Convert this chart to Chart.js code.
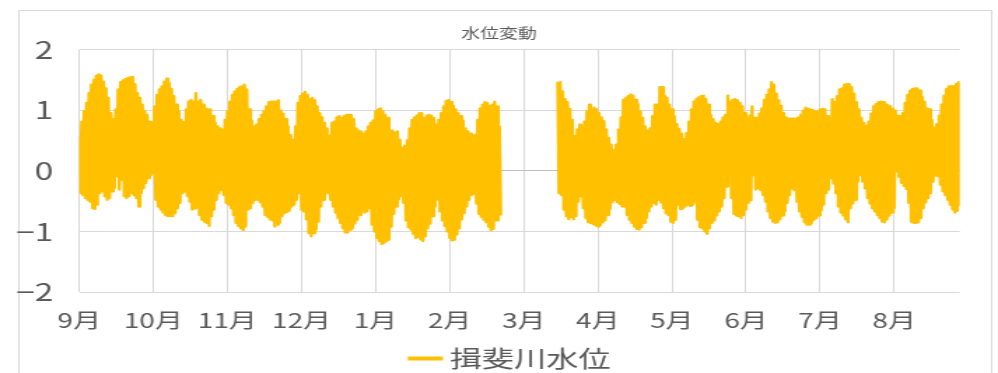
<!DOCTYPE html>
<html lang="ja">
<head>
<meta charset="utf-8">
<title>水位変動</title>
<script src="https://cdn.jsdelivr.net/npm/chart.js@4"></script>
<style>
  html, body { margin: 0; padding: 0; background: #ffffff; }
  /* the chart is laid out on a narrower canvas and widened to the page */
  #wl { display: block; width: 998px; height: 373px; }
</style>
</head>
<body>
<canvas id="wl" width="713" height="373" style="width:998px;height:373px"></canvas>
<script>
// Month labels for the x axis (September to August)
const months = ['9月', '10月', '11月', '12月', '1月', '2月', '3月', '4月', '5月', '6月', '7月', '8月'];
const yTicks = [-2, -1, 0, 1, 2];
const seriesName = '揖斐川水位';

// Daily high water level (m), one value per day from 1 September; null = no record
const dailyHigh = [
  0.57,0.81,0.98,1.12,1.28,1.42,1.50,1.57,1.59,1.57,
  1.47,1.36,1.20,0.95,0.85,1.01,1.34,1.46,1.49,1.51,
  1.53,1.54,1.55,1.43,1.28,1.20,1.09,0.98,0.92,0.81,
  0.80,1.06,1.25,1.34,1.39,1.47,1.52,1.45,1.35,1.23,
  1.09,0.98,0.84,0.80,1.01,1.14,1.17,1.14,1.28,1.14,
  1.17,1.09,1.03,1.01,1.01,0.90,0.79,0.73,0.70,0.68,
  0.84,0.98,1.14,1.25,1.31,1.35,1.38,1.39,1.42,1.34,
  1.01,0.83,0.73,0.76,0.85,0.92,0.98,1.06,1.13,1.14,
  1.14,1.14,1.16,0.99,0.94,0.85,0.73,0.59,0.51,0.73,
  1.12,1.23,1.27,1.30,1.25,1.18,1.20,1.16,1.06,0.95,
  0.88,0.79,0.70,0.58,0.79,0.81,0.88,0.90,0.87,0.90,
  0.92,0.92,0.92,0.85,0.70,0.66,0.65,0.61,0.65,0.73,
  0.79,0.83,0.98,1.01,1.03,0.98,0.92,0.87,0.66,0.66,
  0.63,0.65,0.51,0.38,0.41,0.50,0.70,0.84,0.88,0.91,
  0.95,0.95,0.87,0.91,0.92,0.91,0.87,0.76,0.84,0.95,
  1.06,1.15,1.17,1.13,1.07,1.01,0.95,0.90,0.83,0.70,
  0.65,0.61,0.58,0.59,0.84,1.03,1.09,1.13,1.12,1.07,
  1.09,1.14,1.06,0.73,null,null,null,null,null,null,
  null,null,null,null,null,null,null,null,null,null,
  null,null,null,null,null,null,null,1.47,1.46,1.31,
  1.18,1.13,1.02,0.84,0.57,0.68,0.76,0.73,0.81,0.98,
  1.09,1.01,1.04,1.01,0.95,0.88,0.82,0.68,0.54,0.43,
  0.34,0.43,0.68,0.88,1.17,1.20,1.23,1.26,1.24,1.17,
  1.10,0.98,0.87,0.73,0.66,0.70,0.90,1.09,1.09,1.38,
  1.38,1.24,1.20,1.09,1.01,0.90,0.77,0.69,0.61,0.52,
  0.62,0.81,1.01,1.14,1.18,1.21,1.23,1.24,1.18,1.09,
  0.92,0.85,0.79,0.77,0.81,0.88,0.92,1.24,1.14,1.17,
  1.18,1.16,1.12,1.06,0.95,0.87,0.91,1.06,0.87,0.87,
  0.94,1.03,1.17,1.25,1.34,1.46,1.42,1.27,1.16,1.07,
  0.95,0.88,0.86,0.86,0.86,0.86,0.88,0.92,0.99,1.04,
  1.02,1.01,1.00,0.98,0.98,1.01,1.02,1.01,0.90,0.81,
  1.18,1.13,1.23,1.34,1.36,1.42,1.43,1.43,1.38,1.27,
  1.13,1.01,0.87,0.79,0.74,0.81,0.94,1.06,1.10,1.13,
  1.14,1.13,1.10,1.08,1.06,1.02,0.99,0.91,0.90,0.95,
  1.12,1.25,1.32,1.35,1.36,1.36,1.32,1.22,1.14,1.03,
  1.01,0.84,0.71,0.77,0.91,1.09,1.24,1.35,1.39,1.40,
  1.39,1.43,1.46
];

// Daily low water level (m), same days as dailyHigh
const dailyLow = [
  -0.37,-0.40,-0.45,-0.48,-0.51,-0.62,-0.63,-0.56,-0.37,-0.34,
  -0.42,-0.48,-0.45,-0.34,-0.29,-0.09,-0.31,-0.15,-0.42,-0.45,
  -0.42,-0.37,-0.40,-0.45,-0.59,-0.37,-0.29,-0.20,-0.12,-0.07,
  -0.04,-0.48,-0.59,-0.64,-0.69,-0.73,-0.75,-0.75,-0.75,-0.70,
  -0.62,-0.53,-0.37,-0.34,-0.42,-0.51,-0.64,-0.62,-0.59,-0.73,
  -0.81,-0.84,-0.86,-0.91,-0.75,-0.64,-0.48,-0.37,-0.31,-0.40,
  -0.53,-0.56,-0.62,-0.73,-0.86,-0.91,-0.95,-0.98,-0.92,-0.64,
  -0.62,-0.53,-0.48,-0.48,-0.52,-0.59,-0.73,-0.76,-0.80,-0.82,
  -0.92,-0.89,-0.86,-0.75,-0.70,-0.68,-0.66,-0.59,-0.56,-0.48,
  -0.37,-0.64,-0.67,-0.80,-1.03,-1.08,-1.03,-0.97,-0.84,-0.59,
  -0.48,-0.36,-0.37,-0.48,-0.59,-0.69,-0.78,-0.86,-0.95,-1.02,
  -1.02,-0.97,-0.95,-0.87,-0.81,-0.73,-0.64,-0.69,-0.67,-0.62,
  -0.89,-1.00,-1.11,-1.16,-1.21,-1.19,-1.16,-1.14,-0.92,-0.71,
  -0.59,-0.47,-0.42,-0.53,-0.82,-0.93,-0.97,-1.04,-1.11,-1.09,
  -1.13,-1.16,-1.08,-0.95,-0.87,-0.75,-0.59,-0.47,-0.67,-0.82,
  -0.91,-1.00,-1.11,-1.15,-1.14,-1.05,-0.95,-0.80,-0.70,-0.59,
  -0.48,-0.40,-0.38,-0.54,-0.71,-0.76,-0.81,-0.85,-0.92,-0.98,
  -0.96,-0.82,-0.82,-0.74,null,null,null,null,null,null,
  null,null,null,null,null,null,null,null,null,null,
  null,null,null,null,null,null,null,-0.37,-0.40,-0.64,
  -0.75,-0.80,-0.76,-0.80,-0.75,-0.51,-0.42,-0.62,-0.78,-0.85,
  -0.86,-0.88,-0.90,-0.92,-0.90,-0.85,-0.82,-0.73,-0.63,-0.52,
  -0.48,-0.52,-0.55,-0.59,-0.59,-0.73,-0.81,-0.86,-0.92,-0.96,
  -0.97,-0.93,-0.86,-0.78,-0.67,-0.59,-0.53,-0.56,-0.48,-0.52,
  -0.62,-0.70,-0.73,-0.84,-0.86,-0.81,-0.56,-0.63,-0.62,-0.59,
  -0.56,-0.58,-0.56,-0.52,-0.81,-0.93,-0.95,-1.00,-1.04,-0.95,
  -0.86,-0.82,-0.74,-0.67,-0.59,-0.45,-0.26,-0.07,-0.45,-0.71,
  -0.74,-0.75,-0.78,-0.73,-0.64,-0.53,-0.49,-0.07,-0.31,-0.29,
  -0.32,-0.40,-0.51,-0.67,-0.78,-0.84,-0.86,-0.85,-0.80,-0.74,
  -0.67,-0.53,-0.40,-0.29,-0.32,-0.51,-0.67,-0.76,-0.85,-0.89,
  -0.89,-0.86,-0.81,-0.78,-0.74,-0.65,-0.56,-0.37,-0.31,-0.12,
  -0.21,-0.37,-0.59,-0.69,-0.74,-0.80,-0.85,-0.62,-0.54,-0.48,
  -0.18,-0.07,-0.18,-0.29,-0.45,-0.54,-0.62,-0.67,-0.73,-0.78,
  -0.84,-0.85,-0.80,-0.74,-0.69,-0.62,-0.01,-0.10,-0.20,-0.25,
  -0.30,-0.53,-0.84,-0.86,-0.86,-0.85,-0.78,-0.62,-0.52,-0.45,
  -0.37,-0.18,-0.08,-0.09,-0.23,-0.34,-0.40,-0.48,-0.56,-0.64,
  -0.69,-0.66,-0.58
];

// Axis geometry in days: one label slot per month
const MONTH_SPAN = 30.5;
const X_MAX = dailyHigh.length - 0.5;

// Each day is drawn as a high followed by a low, so the tide swings fill the band
const points = [];
dailyHigh.forEach((h, d) => {
  points.push({ x: d, y: h });
  points.push({ x: d + 0.5, y: dailyLow[d] });
});

const TEXT = '#595959';
const GRID = '#d9d9d9';
const FONT = "'Noto Sans CJK JP', 'Noto Sans', sans-serif";
const SERIES_COLOR = '#FFC000';

// Legend swatch: a short thick line, placed to sit close to its label
const swatch = document.createElement('canvas');
swatch.width = 47;
swatch.height = 8;
(() => {
  const c = swatch.getContext('2d');
  c.strokeStyle = SERIES_COLOR;
  c.lineWidth = 4;
  c.beginPath();
  c.moveTo(21.5, 4);
  c.lineTo(46.5, 4);
  c.stroke();
})();

// Light frame round the whole chart
const framePlugin = {
  id: 'frame',
  beforeDraw(chart) {
    const c = chart.ctx;
    c.save();
    c.fillStyle = '#ffffff';
    c.fillRect(0, 0, chart.width, chart.height);
    c.strokeStyle = GRID;
    c.lineWidth = 1;
    c.strokeRect(13.5, 10.5, 695, 400);
    c.restore();
  }
};

new Chart(document.getElementById('wl'), {
  type: 'line',
  data: {
    datasets: [{
      label: seriesName,
      data: points,
      borderColor: SERIES_COLOR,
      backgroundColor: SERIES_COLOR,
      borderWidth: 2.3,
      borderJoinStyle: 'round',
      pointRadius: 0,
      pointHoverRadius: 0,
      fill: false,
      tension: 0,
      spanGaps: false,
      yAxisID: 'y'
    }]
  },
  options: {
    responsive: false,
    devicePixelRatio: 1,
    animation: false,
    parsing: true,
    layout: { padding: { left: 0, right: 0, top: 0, bottom: -7 } },
    plugins: {
      title: {
        display: true,
        text: '水位変動',
        color: TEXT,
        font: { family: FONT, size: 13.5, weight: 'normal' },
        padding: { top: 25, bottom: 8.3 }
      },
      legend: {
        display: true,
        position: 'bottom',
        labels: {
          color: TEXT,
          font: { family: FONT, size: 23 },
          usePointStyle: true,
          pointStyle: swatch,
          pointStyleWidth: 33,
          padding: 3
        }
      },
      tooltip: { enabled: false }
    },
    scales: {
      x: {
        type: 'linear',
        min: 0,
        max: X_MAX,
        afterBuildTicks(scale) {
          scale.ticks = months.map((m, i) => ({ value: i * MONTH_SPAN }));
        },
        afterFit(scale) { scale.height = 52; },
        ticks: {
          autoSkip: false,
          maxRotation: 0,
          minRotation: 0,
          color: TEXT,
          font: { family: FONT, size: 20 },
          padding: 16.5,
          callback: (v, i) => months[i]
        },
        grid: { color: GRID, lineWidth: 1, drawTicks: false },
        border: { display: false }
      },
      y: {
        type: 'linear',
        position: 'left',
        min: yTicks[0],
        max: yTicks[yTicks.length - 1],
        afterBuildTicks(scale) {
          scale.ticks = yTicks.map(v => ({ value: v }));
        },
        afterFit(scale) { scale.width = 56.6; },
        ticks: {
          color: TEXT,
          font: { family: FONT, size: 24 },
          padding: 18.5,
          callback: v => (v < 0 ? '\u2212' + Math.abs(v) : String(v))
        },
        grid: {
          color: ctx => (ctx.tick && ctx.tick.value === 0 ? '#bfbfbf' : GRID),
          lineWidth: 1,
          drawTicks: false
        },
        border: { display: false }
      },
      // empty right-hand margin so the plot ends short of the frame
      yRight: {
        type: 'linear',
        position: 'right',
        afterFit(scale) { scale.width = 27.3; },
        ticks: { display: false },
        grid: { display: false, drawTicks: false },
        border: { display: false }
      }
    }
  },
  plugins: [framePlugin]
});
</script>
</body>
</html>
